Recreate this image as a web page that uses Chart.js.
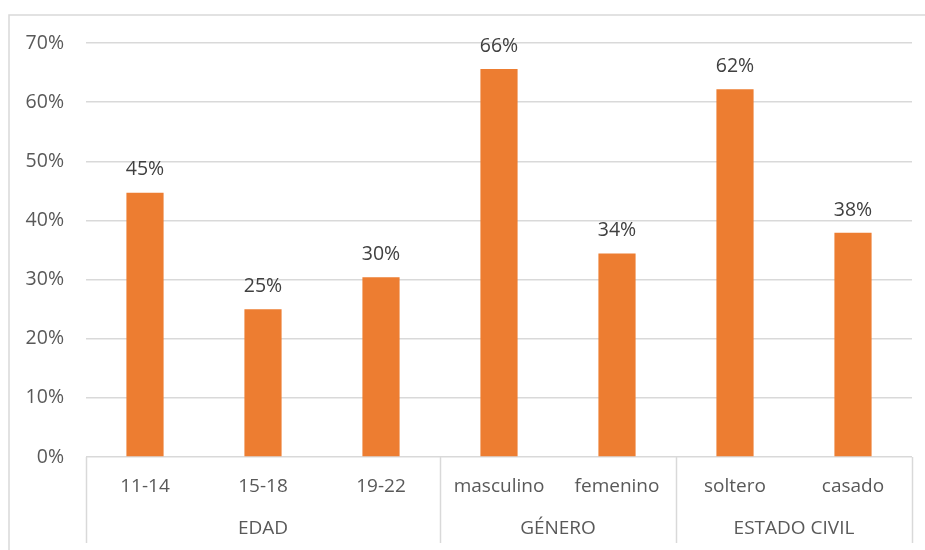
<!DOCTYPE html>
<html>
<head>
<meta charset="utf-8">
<script src="https://cdn.jsdelivr.net/npm/chart.js@4"></script>
<style>
  html, body { margin: 0; padding: 0; background: #fff; }
  #wrap { width: 925px; height: 550px; position: relative; }
</style>
</head>
<body>
<div id="wrap"><canvas id="c" width="925" height="550"></canvas></div>
<script>
// Categories, their group headings and the share for each one
const categories = ['11-14', '15-18', '19-22', 'masculino', 'femenino', 'soltero', 'casado'];
const groupNames = ['EDAD', 'GÉNERO', 'ESTADO CIVIL'];
const groupSizes = [3, 2, 2];
const shares = [0.447, 0.250, 0.304, 0.656, 0.344, 0.622, 0.379];
const yTicks = [0, 0.1, 0.2, 0.3, 0.4, 0.5, 0.6, 0.7];

const FONT = '"Open Sans", "DejaVu Sans", sans-serif';
const LINE = '#d9d9d9';

const pct = v => Math.round(v * 100) + '%';

// Outer frame of the chart
const framePlugin = {
  id: 'frame',
  beforeDraw(chart) {
    const ctx = chart.ctx;
    ctx.save();
    ctx.strokeStyle = LINE;
    ctx.lineWidth = 1.5;
    ctx.strokeRect(9, 15, chart.width + 20, chart.height + 20);
    ctx.restore();
  }
};

// Value labels above each bar
const valueLabels = {
  id: 'valueLabels',
  afterDatasetsDraw(chart) {
    const ctx = chart.ctx;
    const meta = chart.getDatasetMeta(0);
    ctx.save();
    ctx.font = '19.5px ' + FONT;
    ctx.fillStyle = '#404040';
    ctx.textAlign = 'center';
    ctx.textBaseline = 'bottom';
    meta.data.forEach((bar, i) => {
      ctx.fillText(pct(shares[i]), bar.x, bar.y - 13);
    });
    ctx.restore();
  }
};

// Two-level category axis: item labels, group labels and separators
const groupAxis = {
  id: 'groupAxis',
  afterDraw(chart) {
    const ctx = chart.ctx;
    const x = chart.scales.x;
    const area = chart.chartArea;
    const bottom = area.bottom + 86;
    ctx.save();
    ctx.font = '19px ' + FONT;
    ctx.fillStyle = '#595959';
    ctx.textAlign = 'center';
    ctx.textBaseline = 'middle';
    categories.forEach((c, i) => {
      ctx.fillText(c, x.getPixelForValue(i), area.bottom + 30);
    });
    // separator positions between groups
    const edges = [area.left];
    let idx = 0;
    groupSizes.forEach((n, g) => {
      const last = idx + n - 1;
      idx += n;
      const right = idx < categories.length
        ? (x.getPixelForValue(last) + x.getPixelForValue(idx)) / 2
        : area.right;
      edges.push(right);
      const center = (edges[g] + right) / 2;
      ctx.fillText(groupNames[g], center, area.bottom + 72);
    });
    ctx.strokeStyle = LINE;
    ctx.lineWidth = 1.5;
    edges.forEach(e => {
      const px = Math.round(e) + 0.5;
      ctx.beginPath();
      ctx.moveTo(px, area.bottom);
      ctx.lineTo(px, bottom);
      ctx.stroke();
    });
    ctx.restore();
  }
};

new Chart(document.getElementById('c'), {
  type: 'bar',
  data: {
    labels: categories,
    datasets: [{
      data: shares,
      backgroundColor: '#ED7D31',
      borderWidth: 0,
      categoryPercentage: 1,
      barPercentage: 0.315
    }]
  },
  options: {
    responsive: false,
    animation: false,
    events: [],
    layout: { padding: { top: 43, right: 13, left: 0, bottom: 0 } },
    plugins: { legend: { display: false }, tooltip: { enabled: false } },
    scales: {
      x: {
        type: 'category',
        offset: true,
        grid: { display: false },
        border: { display: false },
        ticks: { display: false },
        afterFit(s) { s.height = 93; }
      },
      y: {
        min: 0,
        max: 0.7,
        afterFit(s) { s.width = 86; },
        afterBuildTicks(s) { s.ticks = yTicks.map(v => ({ value: v })); },
        grid: { color: LINE, lineWidth: 1.5, drawTicks: false },
        border: { display: false },
        ticks: {
          padding: 22,
          color: '#595959',
          font: { family: FONT, size: 19.5 },
          callback: v => pct(v)
        }
      }
    }
  },
  plugins: [framePlugin, valueLabels, groupAxis]
});
</script>
</body>
</html>
